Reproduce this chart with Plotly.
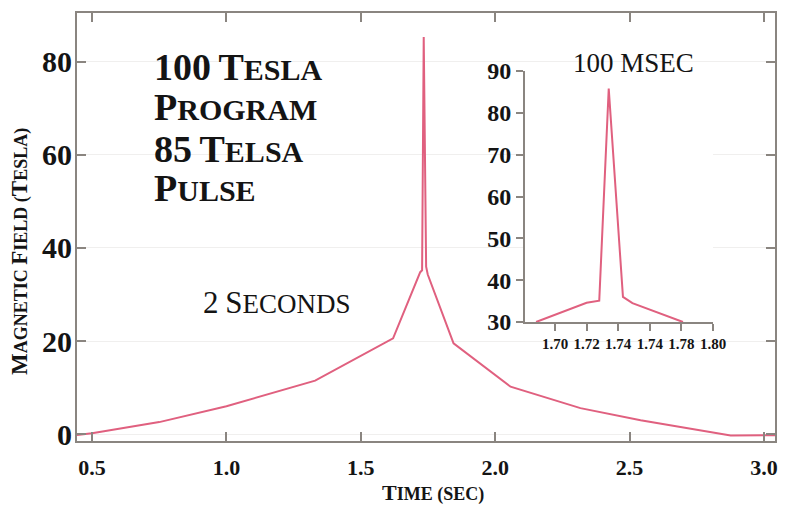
import plotly.graph_objects as go

# ---------------- data ----------------
main_time = [0.444, 0.50, 0.75, 1.00, 1.33, 1.62, 1.721, 1.728, 1.734, 1.743, 1.749, 1.845, 2.057, 2.317, 2.541, 2.876, 3.041]
main_field = [-0.2, 0.2, 2.6, 6.0, 11.5, 20.6, 34.8, 35.2, 85.3, 36.0, 34.3, 19.5, 10.2, 5.6, 3.0, -0.3, -0.2]

inset_time = [1.688, 1.720, 1.728, 1.734, 1.743, 1.749, 1.781]
inset_field = [30.0, 34.6, 35.1, 85.8, 36.0, 34.5, 30.0]

main_xticks = [0.5, 1.0, 1.5, 2.0, 2.5, 3.0]
main_xticktext = ["0.5", "1.0", "1.5", "2.0", "2.5", "3.0"]
main_yticks = [0, 20, 40, 60, 80]

inset_xticks = [1.70, 1.72, 1.74, 1.76, 1.78, 1.80]
inset_xticktext = ["1.70", "1.72", "1.74", "1.74", "1.78", "1.80"]
inset_yticks = [30, 40, 50, 60, 70, 80, 90]

title_lines = ["100 Tesla", "Program", "85 Telsa", "Pulse"]

# ---------------- helpers ----------------
W, H = 786, 506
L, R, T, B = 77, 775, 13, 441


def px(x):
    return (x - L) / (R - L)


def py(y):
    return (B - y) / (B - T)


def smallcaps(text, big, small):
    out = []
    cur_size = None
    buf = ""
    for ch in text:
        if ch.isupper() or ch.isdigit():
            size, c = big, ch
        else:
            size, c = small, ch.upper()
        if size != cur_size and buf:
            out.append('<span style="font-size:%dpx">%s</span>' % (cur_size, buf))
            buf = ""
        cur_size = size
        buf += c
    if buf:
        out.append('<span style="font-size:%dpx">%s</span>' % (cur_size, buf))
    return "".join(out)


LINE_COLOR = "#e0607f"
AXIS_COLOR = "#8a8580"
TEXT_COLOR = "#141414"
SERIF = "Liberation Serif"

fig = go.Figure()
fig.add_trace(go.Scatter(x=main_time, y=main_field, mode="lines",
                         line=dict(color=LINE_COLOR, width=2), xaxis="x", yaxis="y",
                         showlegend=False, hoverinfo="skip"))
fig.add_trace(go.Scatter(x=inset_time, y=inset_field, mode="lines",
                         line=dict(color=LINE_COLOR, width=2), xaxis="x2", yaxis="y2",
                         showlegend=False, hoverinfo="skip", cliponaxis=False))

annotations = []
# big title block
title_y = [67, 107, 149, 188]
for txt, yy in zip(title_lines, title_y):
    annotations.append(dict(text="<b>" + smallcaps(txt, 38, 30) + "</b>", x=px(152), y=py(yy),
                            xref="paper", yref="paper", xanchor="left", yanchor="middle",
                            showarrow=False, font=dict(family=SERIF, size=38, color=TEXT_COLOR)))
# 2 seconds
annotations.append(dict(text=smallcaps("2 Seconds", 31, 27), x=px(277), y=py(302),
                        xref="paper", yref="paper", xanchor="center", yanchor="middle",
                        showarrow=False, font=dict(family=SERIF, size=31, color=TEXT_COLOR)))
# 100 msec
annotations.append(dict(text="100 MSEC", x=px(633), y=py(63),
                        xref="paper", yref="paper", xanchor="center", yanchor="middle",
                        showarrow=False, font=dict(family=SERIF, size=27, color=TEXT_COLOR)))
# axis titles
annotations.append(dict(text="<b>" + smallcaps("Time (sec)", 22, 18) + "</b>", x=px(433), y=py(492),
                        xref="paper", yref="paper", xanchor="center", yanchor="middle",
                        showarrow=False, font=dict(family=SERIF, size=22, color=TEXT_COLOR)))
annotations.append(dict(text="<b>" + smallcaps("Magnetic Field (Tesla)", 23, 18) + "</b>", x=px(20), y=py(252),
                        xref="paper", yref="paper", xanchor="center", yanchor="middle", textangle=-90,
                        showarrow=False, font=dict(family=SERIF, size=23, color=TEXT_COLOR)))

fig.update_layout(
    width=W, height=H,
    margin=dict(l=L, r=W - R, t=T, b=H - B, autoexpand=False),
    paper_bgcolor="white", plot_bgcolor="white",
    annotations=annotations,
    xaxis=dict(range=[0.444, 3.041], tickvals=main_xticks, ticktext=main_xticktext,
               showline=True, linecolor=AXIS_COLOR, linewidth=2, mirror="ticks",
               ticks="inside", ticklen=9, tickwidth=1.5, tickcolor=AXIS_COLOR,
               showgrid=False, zeroline=False, ticklabelstandoff=6, automargin=False,
               tickfont=dict(family=SERIF, size=22, color=TEXT_COLOR, weight="bold")),
    yaxis=dict(range=[-1.46, 90.46], tickvals=main_yticks,
               showline=True, linecolor=AXIS_COLOR, linewidth=2, mirror="ticks",
               ticks="inside", ticklen=9, tickwidth=1.5, tickcolor=AXIS_COLOR,
               showgrid=True, gridcolor="#f0efee", gridwidth=1, zeroline=False, automargin=False,
               ticklabelstandoff=-3,
               tickfont=dict(family=SERIF, size=30, color=TEXT_COLOR, weight="bold")),
    xaxis2=dict(domain=[px(525), px(713)], anchor="y2", range=[1.681, 1.80],
                tickvals=inset_xticks, ticktext=inset_xticktext,
                showline=True, linecolor=AXIS_COLOR, linewidth=2,
                ticks="outside", ticklen=7, tickwidth=1.5, tickcolor=AXIS_COLOR,
                showgrid=False, zeroline=False, automargin=False,
                tickfont=dict(family=SERIF, size=15, color=TEXT_COLOR, weight="bold")),
    yaxis2=dict(domain=[py(322), py(71)], anchor="x2", range=[30, 90],
                tickvals=inset_yticks,
                showline=True, linecolor=AXIS_COLOR, linewidth=2,
                ticks="outside", ticklen=7, tickwidth=1.5, tickcolor=AXIS_COLOR,
                showgrid=False, zeroline=False, automargin=False,
                tickfont=dict(family=SERIF, size=24, color=TEXT_COLOR, weight="bold")),
)

fig.write_html("out.html")
